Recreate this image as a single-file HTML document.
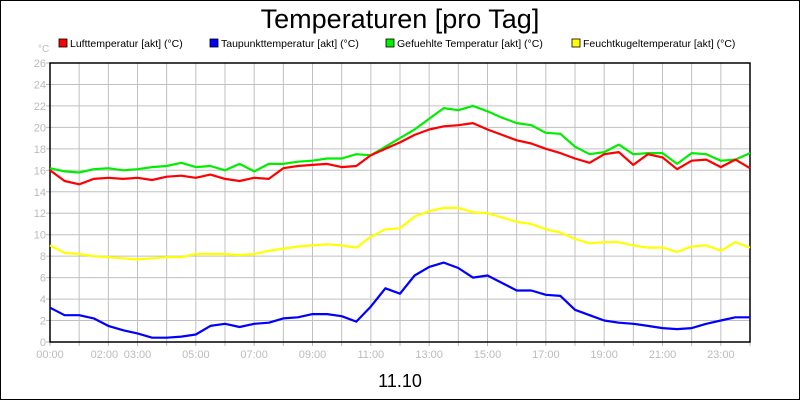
<!DOCTYPE html>
<html><head><meta charset="utf-8"><style>
html,body{margin:0;padding:0;background:#fff}
svg{display:block;font-family:"Liberation Sans",sans-serif}
</style></head><body>
<svg id="chart" width="800" height="400" viewBox="0 0 800 400">
<rect x="0.5" y="0.5" width="799" height="399" fill="#fff" stroke="#000"/>
<text x="400" y="28" text-anchor="middle" font-size="27">Temperaturen [pro Tag]</text>
<g id="grid"></g>
<g id="axes"></g>
<g id="series"></g>
<g id="legend"></g>
<text x="38" y="52" font-size="10" fill="#bbb">°C</text>
<text x="400" y="387" text-anchor="middle" font-size="18">11.10</text>
</svg>
<script>
const xTickHours = [0,2,3,5,7,9,11,13,15,17,19,21,23];
const xTickLabels = ["00:00","02:00","03:00","05:00","07:00","09:00","11:00","13:00","15:00","17:00","19:00","21:00","23:00"];
const yTicks = [0,2,4,6,8,10,12,14,16,18,20,22,24,26];
const seriesNames = ["Lufttemperatur [akt] (°C)","Taupunkttemperatur [akt] (°C)","Gefuehlte Temperatur [akt] (°C)","Feuchtkugeltemperatur [akt] (°C)"];
const luft = [16.0,15.0,14.7,15.2,15.3,15.2,15.3,15.1,15.4,15.5,15.3,15.6,15.2,15.0,15.3,15.2,16.2,16.4,16.5,16.6,16.3,16.4,17.4,18.0,18.6,19.3,19.8,20.1,20.2,20.4,19.8,19.3,18.8,18.5,18.0,17.6,17.1,16.7,17.5,17.7,16.5,17.5,17.2,16.1,16.9,17.0,16.3,17.0,16.2];
const tau = [3.2,2.5,2.5,2.2,1.5,1.1,0.8,0.4,0.4,0.5,0.7,1.5,1.7,1.4,1.7,1.8,2.2,2.3,2.6,2.6,2.4,1.9,3.3,5.0,4.5,6.2,7.0,7.4,6.9,6.0,6.2,5.5,4.8,4.8,4.4,4.3,3.0,2.5,2.0,1.8,1.7,1.5,1.3,1.2,1.3,1.7,2.0,2.3,2.3];
const gef = [16.2,15.9,15.8,16.1,16.2,16.0,16.1,16.3,16.4,16.7,16.3,16.4,16.0,16.6,15.9,16.6,16.6,16.8,16.9,17.1,17.1,17.5,17.4,18.2,19.0,19.8,20.8,21.8,21.6,22.0,21.5,20.9,20.4,20.2,19.5,19.4,18.2,17.5,17.7,18.4,17.5,17.6,17.6,16.6,17.6,17.5,16.9,17.0,17.6];
const feucht = [9.0,8.3,8.2,8.0,7.9,7.8,7.7,7.8,7.9,7.9,8.2,8.2,8.2,8.1,8.2,8.5,8.7,8.9,9.0,9.1,9.0,8.8,9.8,10.5,10.6,11.7,12.2,12.5,12.5,12.1,12.0,11.6,11.2,11.0,10.5,10.2,9.6,9.2,9.3,9.3,9.0,8.8,8.8,8.4,8.9,9.0,8.5,9.3,8.8];
const colors = ["#ff0000","#0000ff","#00ee00","#ffff00"];
const seriesData = [gef, luft, feucht, tau];
const seriesColors = ["#00ee00","#ff0000","#ffff00","#0000ff"];

const NS="http://www.w3.org/2000/svg";
const L=50,R=750,T=63,B=342;
const xs=h=>L+(R-L)*h/24;
const ys=v=>B-(B-T)*v/26;
function mk(tag,attrs,parent){const e=document.createElementNS(NS,tag);for(const k in attrs)e.setAttribute(k,attrs[k]);parent.appendChild(e);return e;}
const grid=document.getElementById('grid'),axes=document.getElementById('axes'),ser=document.getElementById('series'),leg=document.getElementById('legend');
for(let h=1;h<24;h++){const l=mk('line',{x1:xs(h),x2:xs(h),y1:T,y2:B,stroke:'#c0c0c0','stroke-width':1},grid);

}
yTicks.forEach(v=>{if(v>0&&v<26){const l=mk('line',{x1:L,x2:R,y1:ys(v),y2:ys(v),stroke:'#c0c0c0','stroke-width':1},grid);

}
const t=mk('text',{x:L-4,y:ys(v)+4,'text-anchor':'end','font-size':11,fill:'#bbb'},axes);t.textContent=v;


const tk=mk('line',{x1:L-4,x2:L,y1:ys(v),y2:ys(v),stroke:'#bbb'},axes);

});
for(let h=0;h<=24;h++){const tk=mk('line',{x1:xs(h),x2:xs(h),y1:B,y2:B+4,stroke:'#bbb'},axes);

}
xTickHours.forEach((h,i)=>{let x=xs(h);if(h===2)x-=4;const t=mk('text',{x:x,y:B+16,'text-anchor':'middle','font-size':11,fill:'#bbb'},axes);t.textContent=xTickLabels[i];

});
seriesData.forEach((d,si)=>{const pts=d.map((v,i)=>xs(i*0.5).toFixed(1)+','+ys(v).toFixed(1)).join(' ');
const p=mk('polyline',{points:pts,fill:'none',stroke:seriesColors[si],'stroke-width':2.2,'stroke-linejoin':'round'},ser);

});
const box=mk('rect',{x:L,y:T,width:R-L,height:B-T,fill:'none',stroke:'#000','stroke-width':1.5},axes);


const legX=[59,210,386,572];
seriesNames.forEach((n,i)=>{const r=mk('rect',{x:legX[i],y:39,width:8,height:8,fill:colors[i],stroke:'#000','stroke-width':0.8},leg);


const t=mk('text',{x:legX[i]+11,y:47,'font-size':10.5},leg);t.textContent=n;

});
</script>
</body></html>
